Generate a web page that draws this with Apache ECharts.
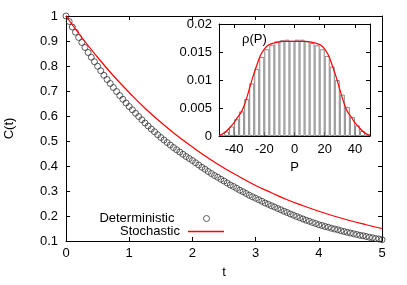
<!DOCTYPE html>
<html>
<head>
<meta charset="utf-8">
<script src="https://cdn.jsdelivr.net/npm/echarts@6/dist/echarts.min.js"></script>
<style>
  html, body { margin: 0; padding: 0; background: #fff; }
  #chart { width: 407px; height: 285px; }
</style>
</head>
<body>
<div id="chart"></div>
<script>
// main plot: C(t)
var tValues = [];
for (var i = 0; i <= 100; i++) tValues.push(i * 0.05);
var deterministic = [
  1, .978, .956, .935, .914, .894, .874, .854, .835, .817, .799, .781, .763, .746, .730, .714, .698, .682, .667, .652, .638,
  .625, .611, .598, .585, .572, .560, .548, .537, .525, .514,
  .504, .494, .484, .474, .465, .456, .447, .438, .430, .422,
  .413, .404, .395, .387, .378, .370, .362, .355, .347, .340,
  .332, .324, .318, .311, .303, .297, .290, .283, .277, .271,
  .265, .259, .252, .247, .241, .236, .230, .225, .219, .214,
  .208, .203, .198, .193, .188, .183, .179, .174, .170, .165,
  .162, .158, .155, .151, .148, .145, .141, .138, .135, .132,
  .129, .126, .123, .121, .118, .115, .113, .110, .108, .105
];
var stochT = [0, 0.25, 0.5, 0.75, 1, 1.25, 1.5, 1.75, 2, 2.25, 2.5, 2.75, 3, 3.25, 3.5, 3.75, 4, 4.25, 4.5, 4.75, 5];
var stochastic = [1, .914, .835, .761, .694, .631, .575, .523, .476, .432, .392, .356, .322, .293, .265, .241, .219, .199, .181, .165, .150];

// inset: rho(P)
var binCenters = [-48.33, -45, -41.67, -38.33, -35, -31.67, -28.33, -25, -21.67, -18.33, -15, -11.67, -8.33, -5, -1.67,
                  1.67, 5, 8.33, 11.67, 15, 18.33, 21.67, 25, 28.33, 31.67, 35, 38.33, 41.67, 45, 48.33];
var binValues = [.0002, .0008, .0017, .0030, .0044, .0066, .0094, .0120, .0141, .0155, .0163, .0169, .0171, .0172, .0170,
                 .0172, .0172, .0169, .0166, .0162, .0155, .0143, .0124, .0100, .0074, .0052, .0034, .0019, .0009, .0003];
var fitP = [-50, -47.5, -45, -42.5, -40, -37.5, -35, -32.5, -30, -27.5, -25, -22.5, -20, -17.5, -15, -12.5, -10, -7.5, -5, -2.5, 0,
            2.5, 5, 7.5, 10, 12.5, 15, 17.5, 20, 22.5, 25, 27.5, 30, 32.5, 35, 37.5, 40, 42.5, 45, 47.5, 50];
var fitRho = [.0001, .0004, .0009, .0016, .0024, .0034, .0044, .0061, .0083, .0106, .0126, .0144, .0155, .0162, .0165, .0167, .0168, .0169, .0169, .0169, .0169,
              .0169, .0169, .0169, .0168, .0167, .0165, .0162, .0155, .0144, .0126, .0106, .0083, .0061, .0044, .0034, .0024, .0016, .0009, .0004, .0001];
var insetXTicks = [-40, -20, 0, 20, 40];

var FONT = 'Liberation Sans, Arial, sans-serif';

function zip(a, b) {
  return a.map(function (v, i) { return [v, b[i]]; });
}

var lbl = { color: '#000', fontFamily: FONT, fontSize: 13 };
var axLine = { onZero: false, lineStyle: { color: '#000', width: 1 } };
var tick = { inside: true, length: 4, lineStyle: { color: '#000' } };

var myChart = echarts.init(document.getElementById('chart'), null, { renderer: 'canvas' });
myChart.setOption({
  animation: false,
  textStyle: { fontFamily: FONT, color: '#000' },
  grid: [
    { left: 66, top: 16, width: 316, height: 225, outerBoundsMode: 'none' },
    { left: 219, top: 24, width: 151, height: 112, outerBoundsMode: 'none' }
  ],
  legend: [
    {
      data: ['Deterministic'], right: 197, top: 212, padding: 0, align: 'right',
      itemWidth: 36, itemHeight: 6,
      textStyle: Object.assign({ padding: [0, 9, 0, 0] }, lbl),
      itemStyle: { color: 'rgba(255,255,255,0)', borderColor: '#333', borderWidth: 1 }
    },
    {
      data: [{ name: 'Stochastic', icon: 'rect' }], right: 183, top: 225, padding: 0, align: 'right',
      itemWidth: 36, itemHeight: 1.5, textStyle: Object.assign({ padding: [0, 3, 0, 0] }, lbl)
    }
  ],
  xAxis: [
    {
      gridIndex: 0, type: 'value', min: 0, max: 5, interval: 1,
      name: 't', nameLocation: 'middle', nameGap: 25, nameTextStyle: lbl,
      axisLine: axLine, axisTick: tick, splitLine: { show: false },
      axisLabel: Object.assign({ margin: 6 }, lbl)
    },
    {
      gridIndex: 0, type: 'value', position: 'top', min: 0, max: 5, interval: 1,
      axisLine: axLine, axisTick: tick, splitLine: { show: false }, axisLabel: { show: false }
    },
    {
      gridIndex: 1, type: 'value', min: -50, max: 50,
      name: 'P', nameLocation: 'middle', nameGap: 25, nameTextStyle: lbl,
      axisLine: axLine, splitLine: { show: false },
      axisTick: Object.assign({ customValues: insetXTicks }, tick),
      axisLabel: Object.assign({ margin: 7, customValues: insetXTicks }, lbl)
    },
    {
      gridIndex: 1, type: 'value', position: 'top', min: -50, max: 50,
      axisLine: axLine, splitLine: { show: false },
      axisTick: Object.assign({ customValues: insetXTicks }, tick),
      axisLabel: { show: false }
    }
  ],
  yAxis: [
    {
      gridIndex: 0, type: 'value', min: 0.1, max: 1, interval: 0.1,
      name: 'C(t)', nameLocation: 'middle', nameGap: 50, nameTextStyle: lbl,
      axisLine: axLine, axisTick: tick, splitLine: { show: false },
      axisLabel: Object.assign({ margin: 8, formatter: function (v) { return String(+v.toFixed(1)); } }, lbl)
    },
    {
      gridIndex: 0, type: 'value', position: 'right', min: 0.1, max: 1, interval: 0.1,
      axisLine: axLine, axisTick: tick, splitLine: { show: false }, axisLabel: { show: false }
    },
    {
      gridIndex: 1, type: 'value', min: 0, max: 0.02, interval: 0.005,
      axisLine: axLine, axisTick: tick, splitLine: { show: false },
      axisLabel: Object.assign({ margin: 7, formatter: function (v) { return String(+v.toFixed(3)); } }, lbl)
    },
    {
      gridIndex: 1, type: 'value', position: 'right', min: 0, max: 0.02, interval: 0.005,
      axisLine: axLine, axisTick: tick, splitLine: { show: false }, axisLabel: { show: false }
    }
  ],
  graphic: [
    { type: 'text', left: 242, top: 33, style: { text: 'ρ(P)', font: '13px ' + FONT, fill: '#000' } }
  ],
  series: [
    {
      name: 'Deterministic', type: 'scatter', xAxisIndex: 0, yAxisIndex: 0,
      symbol: 'circle', symbolSize: 6,
      itemStyle: { color: 'rgba(255,255,255,0)', borderColor: '#333', borderWidth: 1 },
      data: zip(tValues, deterministic)
    },
    {
      name: 'Stochastic', type: 'line', xAxisIndex: 0, yAxisIndex: 0,
      symbol: 'none', smooth: true,
      lineStyle: { color: '#ff0000', width: 1.2 }, itemStyle: { color: '#ff0000' },
      data: zip(stochT, stochastic)
    },
    {
      name: 'hist', type: 'bar', xAxisIndex: 2, yAxisIndex: 2,
      barWidth: 5,
      itemStyle: { color: 'rgba(255,255,255,0)', borderColor: '#888', borderWidth: 1 },
      data: zip(binCenters, binValues)
    },
    {
      name: 'fit', type: 'line', xAxisIndex: 2, yAxisIndex: 2,
      symbol: 'none', smooth: true,
      lineStyle: { color: '#ff0000', width: 1.2 },
      data: zip(fitP, fitRho)
    }
  ]
});
window.addEventListener('resize', function () {
  myChart.resize();
});
</script>
</body>
</html>
